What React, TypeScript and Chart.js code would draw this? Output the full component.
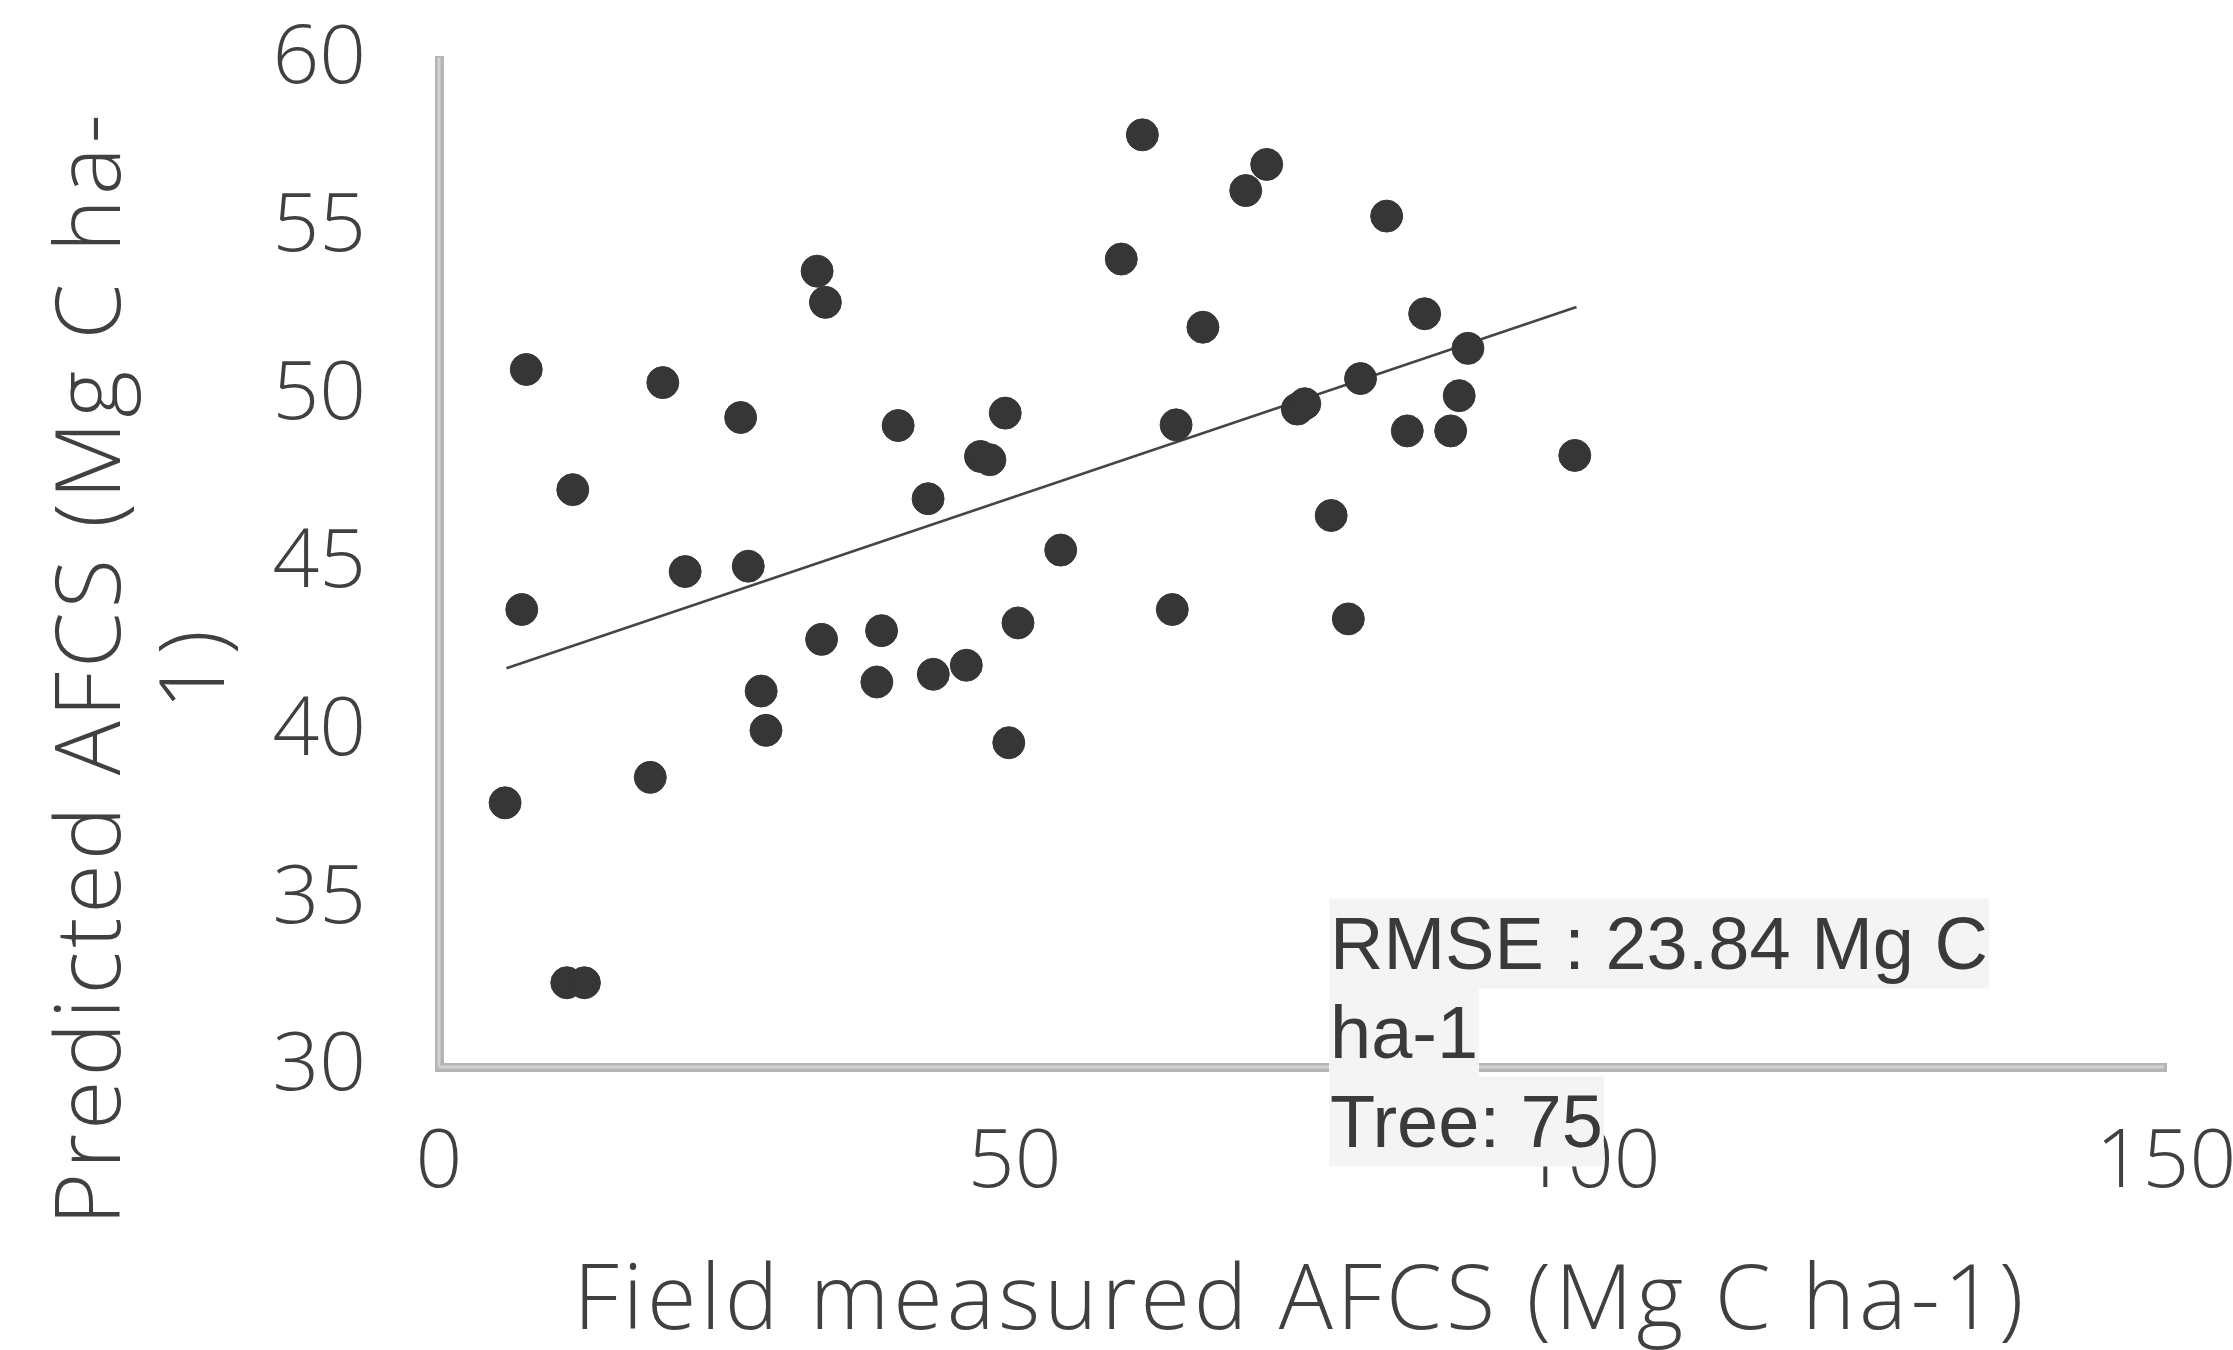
import { useEffect, useRef } from 'react';
import { Chart, registerables } from 'chart.js';

Chart.register(...registerables);

// Field measured AFCS (x) and predicted AFCS (y), Mg C ha-1
const measuredAFCS = [
  5.74, 7.19, 7.58, 11.1, 11.62, 12.63, 18.35, 19.44, 21.38, 26.2, 26.86, 27.98,
  28.4, 32.84, 33.23, 33.56, 38.03, 38.44, 39.88, 42.48, 42.93, 45.8, 47.03, 47.85,
  49.18, 49.49, 50.29, 54.0, 59.26, 61.09, 63.69, 64.02, 66.35, 70.07, 71.89, 74.55,
  75.2, 77.49, 78.98, 80.04, 82.31, 84.1, 85.61, 87.87, 88.61, 89.37, 98.65,
];
const predictedAFCS = [
  37.87, 43.63, 50.78, 32.51, 47.2, 32.51, 38.63, 50.39, 44.76, 49.35, 44.92, 41.2,
  40.03, 53.71, 42.74, 52.78, 41.47, 43.0, 49.11, 46.93, 41.7, 41.97, 48.19, 48.09,
  49.48, 39.66, 43.23, 45.4, 54.07, 57.77, 43.63, 49.13, 52.04, 56.11, 56.89, 49.6,
  49.76, 46.43, 43.35, 50.51, 55.35, 48.95, 52.44, 48.95, 50.0, 51.41, 48.22,
];

// Linear trend line end points
const trendX = [5.86, 98.8];
const trendY = [41.88, 52.64];

const xTicks = [0, 50, 100, 150];
const yTicks = [30, 35, 40, 45, 50, 55, 60];

const xTitle = 'Field measured AFCS (Mg C ha-1)';
const yTitleLines = ['Predicted AFCS (Mg C ha-', '1)'];
const noteLines = ['RMSE : 23.84 Mg C', 'ha-1', 'Tree: 75'];

const TEXT = '#404040';
const FONT = 'Open Sans';

const drawSpaced = (ctx: any, text: string, cx: number, y: number, spacing: number) => {
  ctx.letterSpacing = `${spacing}px`;
  const w = ctx.measureText(text).width;
  ctx.textAlign = 'left';
  ctx.fillText(text, cx - (w - spacing) / 2, y);
  ctx.letterSpacing = '0px';
};

const overlayPlugin = {
  id: 'overlay',
  beforeDatasetsDraw(chart: any) {
    const { ctx, chartArea } = chart;
    ctx.save();
    ctx.strokeStyle = '#d2d2d2';
    ctx.lineWidth = 3;
    ctx.lineCap = 'butt';
    ctx.beginPath();
    ctx.moveTo(chartArea.left, chartArea.top - 2);
    ctx.lineTo(chartArea.left, chartArea.bottom);
    ctx.moveTo(chartArea.left, chartArea.bottom);
    ctx.lineTo(chartArea.right - 2, chartArea.bottom);
    ctx.stroke();
    ctx.restore();
  },
  afterDraw(chart: any) {
    const { ctx, scales, chartArea } = chart;
    // x axis title
    ctx.save();
    ctx.fillStyle = TEXT;
    ctx.font = `300 90px "${FONT}"`;
    ctx.textBaseline = 'alphabetic';
    drawSpaced(ctx, xTitle, (chartArea.left + chartArea.right) / 2 - 4, 1329, 4);
    ctx.restore();

    // y axis title (two lines, rotated)
    ctx.save();
    ctx.translate(120, 670);
    ctx.rotate(-Math.PI / 2);
    ctx.fillStyle = TEXT;
    ctx.font = `300 90px "${FONT}"`;
    ctx.textBaseline = 'alphabetic';
    yTitleLines.forEach((line, i) => drawSpaced(ctx, line, 0, i * 104, 4));
    ctx.restore();

    // RMSE note
    const left = scales.x.getPixelForValue(77.3);
    const top = scales.y.getPixelForValue(35.02);
    const lh = 89;
    ctx.save();
    ctx.font = '74px "Liberation Sans", Arial, sans-serif';
    ctx.textAlign = 'left';
    ctx.textBaseline = 'alphabetic';
    noteLines.forEach((line, i) => {
      const w = ctx.measureText(line).width;
      ctx.fillStyle = '#f4f4f4';
      ctx.fillRect(left, top + i * lh, w + 2, lh + 1);
    });
    ctx.fillStyle = '#3a3a3a';
    noteLines.forEach((line, i) => {
      ctx.fillText(line, left + 1, top + i * lh + 71);
    });
    ctx.restore();
  },
};

export default function App() {
  const canvasRef = useRef<HTMLCanvasElement | null>(null);

  useEffect(() => {
    if (!canvasRef.current) return;
    const points = measuredAFCS.map((x, i) => ({ x, y: predictedAFCS[i] }));
    const trend = trendX.map((x, i) => ({ x, y: trendY[i] }));

    const chart = new Chart(canvasRef.current, {
      type: 'scatter',
      data: {
        datasets: [
          {
            label: 'AFCS',
            data: points,
            pointRadius: 16,
            pointHoverRadius: 16,
            pointBackgroundColor: '#363636',
            pointBorderColor: '#363636',
            pointBorderWidth: 1,
          },
          {
            label: 'Trend',
            type: 'line',
            data: trend,
            showLine: true,
            pointRadius: 0,
            borderColor: '#454545',
            borderWidth: 2.5,
            fill: false,
          } as any,
        ],
      },
      options: {
        animation: false,
        responsive: true,
        maintainAspectRatio: false,
        layout: { padding: { left: 0, top: 60, right: 67, bottom: 0 } },
        plugins: {
          legend: { display: false },
          tooltip: { enabled: false },
        },
        scales: {
          x: {
            type: 'linear',
            min: 0,
            max: 150,
            afterBuildTicks: (s: any) => {
              s.ticks = xTicks.map((v) => ({ value: v }));
            },
            afterFit: (s: any) => {
              s.height = 283;
              s.paddingLeft = 0;
              s.paddingRight = 0;
            },
            grid: { display: false, drawTicks: false },
            border: { display: true, color: '#b5b5b5', width: 9 },
            ticks: {
              padding: 47,
              color: TEXT,
              autoSkip: false,
              maxRotation: 0,
              font: { family: FONT, size: 82, weight: '300' as any, lineHeight: 1.2 },
            },
            title: { display: false, text: xTitle },
          },
          y: {
            type: 'linear',
            min: 30,
            max: 60,
            afterBuildTicks: (s: any) => {
              s.ticks = yTicks.map((v) => ({ value: v }));
            },
            afterFit: (s: any) => {
              s.width = 439;
              s.paddingTop = 0;
              s.paddingBottom = 0;
            },
            grid: { display: false, drawTicks: false },
            border: { display: true, color: '#b5b5b5', width: 9 },
            ticks: {
              padding: 73,
              color: TEXT,
              autoSkip: false,
              font: { family: FONT, size: 82, weight: '300' as any, lineHeight: 1.2 },
            },
            title: { display: false },
          },
        },
      },
      plugins: [overlayPlugin],
    });
    return () => chart.destroy();
  }, []);

  return (
    <div style={{ position: 'fixed', left: 0, top: 0, width: 2233, height: 1350, background: '#ffffff' }}>
      <canvas ref={canvasRef} />
    </div>
  );
}
